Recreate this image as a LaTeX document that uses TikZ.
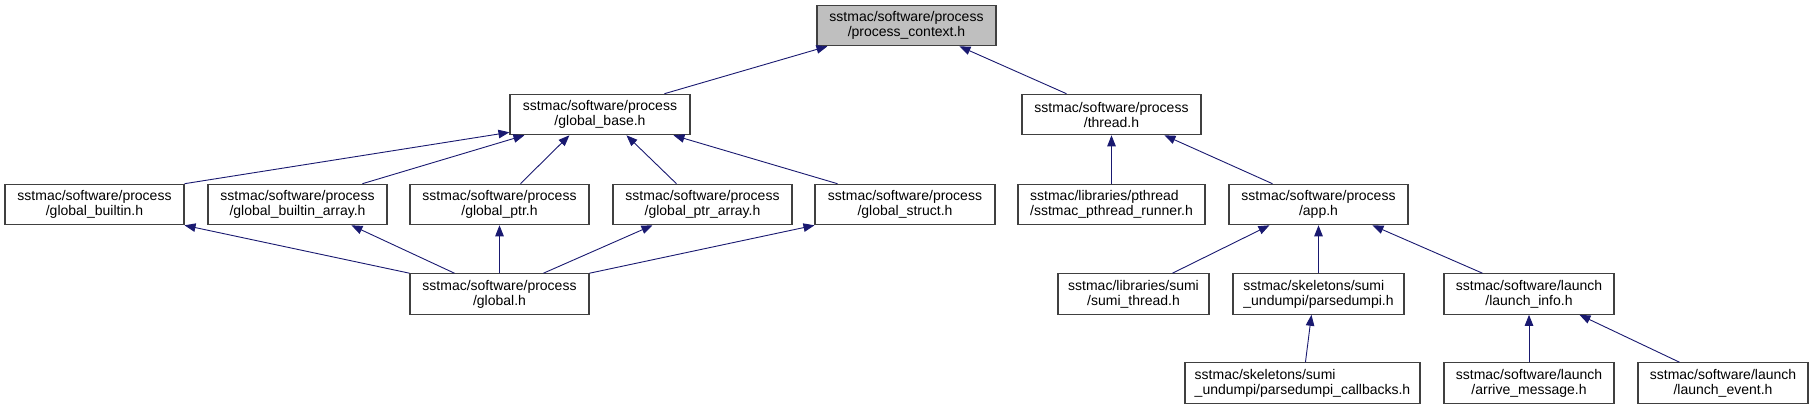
\documentclass[tikz,border=0pt]{standalone}
\usepackage{fontspec}
\setmainfont{Liberation Sans}
\usetikzlibrary{arrows.meta}
\definecolor{edgeblue}{HTML}{191970}
\definecolor{boxgray}{HTML}{BFBFBF}
\tikzset{
  box/.style={draw=black!75, line width=1.1pt, fill=white, minimum height=40.5pt,
    inner sep=0pt, align=center, font=\fontsize{14}{15}\selectfont},
  lbox/.style={box, align=left},
  edge/.style={draw=edgeblue, line width=0.9pt, -{Triangle[length=11pt,width=8.5pt]}}
}
\begin{document}
\begin{tikzpicture}[x=1pt,y=-1pt]
\useasboundingbox (0,0) rectangle (1813,409);
% row 0
\node[box, fill=boxgray, minimum width=179pt] (pc) at (906.5,25.5) {sstmac/software/process\\/process\_context.h};
% row 1
\node[box, minimum width=180pt] (gbase) at (600,114.5) {sstmac/software/process\\/global\_base.h};
\node[box, minimum width=179pt] (thread) at (1111.5,114.5) {sstmac/software/process\\/thread.h};
% row 2
\node[box, minimum width=179pt] (builtin) at (94.5,204.5) {sstmac/software/process\\/global\_builtin.h};
\node[box, minimum width=179pt] (barray) at (297.5,204.5) {sstmac/software/process\\/global\_builtin\_array.h};
\node[box, minimum width=179pt] (gptr) at (499.5,204.5) {sstmac/software/process\\/global\_ptr.h};
\node[box, minimum width=179pt] (parray) at (702.5,204.5) {sstmac/software/process\\/global\_ptr\_array.h};
\node[box, minimum width=180pt] (gstruct) at (905,204.5) {sstmac/software/process\\/global\_struct.h};
\node[lbox, minimum width=187pt] (pthread) at (1111.5,204.5) {sstmac/libraries/pthread\\/sstmac\_pthread\_runner.h};
\node[box, minimum width=179pt] (app) at (1318.5,204.5) {sstmac/software/process\\/app.h};
% row 3
\node[box, minimum width=179pt] (global) at (499.5,294) {sstmac/software/process\\/global.h};
\node[box, minimum width=151pt] (sumi) at (1133.5,294) {sstmac/libraries/sumi\\/sumi\_thread.h};
\node[lbox, minimum width=171pt] (parsedumpi) at (1318.5,294) {sstmac/skeletons/sumi\\\_undumpi/parsedumpi.h};
\node[box, minimum width=170pt] (linfo) at (1529,294) {sstmac/software/launch\\/launch\_info.h};
% row 4
\node[lbox, minimum width=235pt] (callbacks) at (1302.5,383) {sstmac/skeletons/sumi\\\_undumpi/parsedumpi\_callbacks.h};
\node[box, minimum width=170pt] (arrive) at (1529,383) {sstmac/software/launch\\/arrive\_message.h};
\node[box, minimum width=170pt] (levent) at (1723,383) {sstmac/software/launch\\/launch\_event.h};

% edges (child -> parent)
\draw[edge] ([xshift=155pt]gbase.north west) -- ([xshift=11pt]pc.south west);
\draw[edge] ([xshift=45pt]thread.north west) -- ([xshift=143pt]pc.south west);

\draw[edge] (builtin.north east) -- ([yshift=3pt]gbase.south west);
\draw[edge] ([xshift=155pt]barray.north west) -- ([xshift=15pt]gbase.south west);
\draw[edge] ([xshift=111pt]gptr.north west) -- ([xshift=60pt]gbase.south west);
\draw[edge] ([xshift=64pt]parray.north west) -- ([xshift=117pt]gbase.south west);
\draw[edge] ([xshift=23pt]gstruct.north west) -- ([xshift=164pt]gbase.south west);

\draw[edge] (global.north west) -- (builtin.south east);
\draw[edge] ([xshift=45pt]global.north west) -- ([xshift=144pt]barray.south west);
\draw[edge] (global.north) -- (gptr.south);
\draw[edge] ([xshift=134pt]global.north west) -- ([xshift=40pt]parray.south west);
\draw[edge] (global.north east) -- (gstruct.south west);

\draw[edge] (pthread.north) -- (thread.south);
\draw[edge] ([xshift=44pt]app.north west) -- ([xshift=143pt]thread.south west);

\draw[edge] ([xshift=115pt]sumi.north west) -- ([xshift=41pt]app.south west);
\draw[edge] (parsedumpi.north) -- (app.south);
\draw[edge] ([xshift=39pt]linfo.north west) -- ([xshift=144pt]app.south west);

\draw[edge] ([xshift=121pt]callbacks.north west) -- ([xshift=79pt]parsedumpi.south west);
\draw[edge] (arrive.north) -- (linfo.south);
\draw[edge] ([xshift=42pt]levent.north west) -- ([xshift=136pt]linfo.south west);
\end{tikzpicture}
\end{document}
